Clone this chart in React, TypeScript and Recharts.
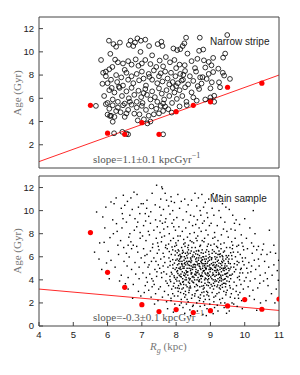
import { ScatterChart, Scatter, XAxis, YAxis, ReferenceLine } from 'recharts';

type Pt = [number, number];

const xTicks = [4, 5, 6, 7, 8, 9, 10, 11];
const yTicks = [0, 2, 4, 6, 8, 10, 12];

// Narrow stripe: individual stars (open circles)
const stripeStars: Pt[] = [
  [6.04,10.96],[6.17,10.67],[6.25,10.44],[6.36,10.8],[6.08,9.83],[6.67,10.96],[6.87,11.16],[6.8,10.8],[6.97,10.96],[7.1,11.05],
  [6.75,10.5],[6.96,10.0],[7.21,10.5],[7.46,10.67],[7.57,10.87],[7.6,10.5],[7.92,10.29],[8.03,10.15],[8.12,10.23],[8.19,10.5],
  [8.29,11.22],[8.24,10.73],[8.33,9.85],[8.69,11.22],[8.79,10.2],[8.67,10.09],[9.49,11.45],[9.43,9.85],[6.62,10.6],
  [5.81,9.3],[6.22,9.33],[6.14,8.7],[5.95,8.3],[6.05,8.5],[6.3,9.1],[6.6,9.2],[6.7,8.9],[6.82,9.35],[6.9,8.8],[7.1,9.3],
  [7.0,9.0],[7.25,8.95],[7.42,8.7],[7.52,9.25],[7.7,9.55],[7.82,9.1],[7.95,9.3],[8.1,8.9],[8.25,8.85],[8.45,9.2],[8.55,8.6],
  [8.62,9.4],[8.81,9.27],[8.95,9.13],[9.08,9.48],[9.03,8.84],[9.23,8.55],[9.37,9.5],[8.85,8.65],[7.3,9.7],[6.45,9.0],[7.62,8.75],[8.0,8.6],
  [5.87,8.2],[5.95,7.9],[6.0,7.3],[5.85,7.25],[6.1,7.6],[6.25,8.0],[6.28,7.4],[6.4,7.8],[6.45,7.1],[6.55,8.2],[6.6,7.6],[6.7,7.9],
  [6.75,7.3],[6.85,8.1],[6.92,7.55],[7.0,8.3],[7.05,7.7],[7.12,7.1],[7.2,8.1],[7.3,7.6],[7.35,8.4],[7.45,7.3],[7.5,7.9],[7.6,7.45],
  [7.68,8.3],[7.75,7.7],[7.85,8.2],[7.9,7.4],[7.98,7.9],[8.05,7.3],[8.12,8.1],[8.2,7.6],[8.26,8.35],[8.35,7.2],[8.4,7.9],[8.5,7.5],
  [8.58,8.3],[8.63,7.05],[8.7,7.8],[8.77,7.82],[8.89,7.67],[9.04,7.38],[9.25,7.38],[9.08,8.26],[9.36,8.2],[9.4,7.96],[9.57,7.67],
  [8.95,8.1],[8.16,7.53],[8.21,8.02],[6.33,7.0],[6.5,8.45],[7.22,7.85],[7.55,8.15],[7.8,7.2],[8.0,7.05],
  [5.9,6.2],[6.0,5.6],[6.05,6.7],[6.15,5.9],[6.2,6.5],[6.3,5.7],[6.35,6.9],[6.42,6.2],[6.5,5.55],[6.55,6.6],[6.62,6.0],[6.7,6.9],
  [6.78,6.3],[6.85,5.7],[6.9,6.65],[6.98,6.1],[7.02,5.6],[7.1,6.8],[7.15,6.3],[7.25,5.9],[7.3,6.6],[7.38,6.1],[7.45,5.7],[7.5,6.85],
  [7.58,6.4],[7.65,5.9],[7.72,6.7],[7.8,6.2],[7.88,5.6],[7.95,6.5],[8.02,5.95],[8.1,6.7],[8.18,6.2],[8.26,6.95],[8.3,5.7],[8.45,6.51],
  [8.5,6.08],[8.6,5.8],[8.67,6.8],[8.74,7.27],[9.0,6.86],[9.28,6.95],[9.0,6.08],[9.11,6.22],[9.0,5.78],[9.11,5.7],[8.85,5.9],
  [6.12,6.9],[6.65,5.7],[7.05,6.45],[7.62,5.55],[7.9,6.9],
  [5.66,5.35],[5.95,5.5],[6.0,4.6],[6.05,5.1],[6.1,4.5],[6.15,5.4],[6.2,4.4],[6.3,5.2],[6.38,4.8],[6.45,5.4],[6.5,4.4],[6.6,5.0],
  [6.7,5.45],[6.78,4.68],[6.85,5.2],[6.93,4.62],[7.0,5.35],[7.06,4.19],[7.12,5.0],[7.2,4.5],[7.28,5.3],[7.35,4.62],[7.42,5.1],
  [7.5,4.7],[7.55,5.35],[7.62,4.91],[7.68,5.3],[7.77,5.06],[7.87,4.77],[8.31,5.41],[8.1,5.3],[6.25,4.9],[6.55,4.7],[6.07,4.48],
  [6.15,3.98],[6.88,4.1],[7.16,3.84],[7.25,4.0],
  [6.19,2.99],[6.6,2.9],[6.43,3.11],[7.62,2.9],[6.55,2.95],
];

// Narrow stripe: binned medians (red)
const stripeBins: Pt[] = [
  [5.5,5.4],[6.0,3.0],[6.5,2.9],[7.0,3.9],[7.5,2.9],[8.0,4.85],[8.5,5.4],[9.0,5.7],[9.5,6.95],[10.5,7.3],
];
const stripeFit: Pt[] = [[4, 0.55], [11, 8.0]];

// Main sample: individual stars (dots), outskirts and bins by Rg
const mainStars: Pt[] = [
  [5.68,9.88],[5.86,9.45],[5.77,7.2],[5.9,7.25],[5.97,5.46],[5.75,5.8],[5.62,6.4],[5.92,8.5],[5.83,4.9],[5.95,10.3],
  [6.1,5.69],[6.02,6.47],[6.07,7.66],[6.17,8.0],[6.1,10.75],[6.19,10.6],[6.26,8.87],[6.28,8.2],[6.46,11.33],[6.5,10.46],
  [6.43,9.74],[6.45,9.3],[6.38,7.4],[6.32,6.2],[6.48,5.6],[6.22,5.1],[6.4,4.4],[6.35,3.9],[6.05,4.1],[6.3,7.0],[6.42,8.5],
  [6.15,9.2],[6.47,6.8],[6.25,11.1],[6.4,10.2],
  [6.52,3.67],[6.6,3.2],[6.65,8.0],[6.68,7.3],[6.7,6.7],[6.63,5.98],[6.77,11.6],[6.86,11.4],[6.94,9.74],[6.9,10.3],[6.55,9.0],
  [6.58,10.8],[6.72,10.1],[6.8,9.3],[6.85,8.6],[6.95,8.1],[6.62,7.7],[6.75,7.0],[6.88,6.4],[6.98,5.9],[6.57,5.2],[6.7,4.9],
  [6.82,4.5],[6.92,4.1],[6.6,4.2],[6.75,3.6],[6.9,3.0],[6.97,2.6],[6.55,6.3],[6.8,5.5],[6.95,7.6],[6.65,9.6],[6.78,8.3],
  [6.92,5.1],[6.85,6.9],[6.68,11.1],[6.98,10.6],[6.73,2.4],[6.6,7.0],[6.88,9.0],
  [7.04,10.6],[7.15,10.9],[7.3,11.5],[7.43,12.2],[7.1,9.74],[7.2,9.5],[7.4,9.2],[7.05,8.7],[7.25,8.9],[7.35,8.3],[7.45,8.6],
  [7.02,7.8],[7.12,7.4],[7.22,7.9],[7.32,7.1],[7.42,7.6],[7.48,6.9],[7.05,6.7],[7.15,6.2],[7.25,6.5],[7.35,5.9],[7.45,6.3],
  [7.08,5.5],[7.18,5.1],[7.28,5.6],[7.38,4.9],[7.48,5.3],[7.03,4.6],[7.13,4.2],[7.23,4.5],[7.33,3.9],[7.43,4.3],[7.1,3.5],
  [7.2,3.1],[7.3,3.4],[7.4,2.8],[7.47,2.2],[7.27,2.5],[7.07,2.9],[7.37,1.9],[7.14,10.2],[7.39,10.5],[7.26,9.9],[7.46,7.2],
  [7.19,8.2],[7.31,6.8],[7.41,5.6],[7.09,6.1],[7.21,5.3],[7.44,4.7],[7.36,3.6],[7.16,3.8],[7.29,4.1],[7.49,3.2],[7.11,9.1],
  [7.58,12.05],[7.6,11.9],[7.68,11.5],[7.55,11.0],[7.72,10.9],[7.85,11.2],[7.95,10.7],[7.52,10.3],[7.63,10.1],[7.78,10.4],
  [7.9,10.0],[7.56,9.6],[7.7,9.3],[7.82,9.7],[7.93,9.2],[7.6,8.9],[7.75,8.6],[7.88,8.9],[7.98,8.3],[7.53,8.1],[7.66,7.8],
  [7.8,8.0],[7.92,7.6],[7.57,7.3],[7.7,7.0],[7.84,7.4],[7.96,6.9],[7.5,6.6],[7.62,6.3],[7.74,6.7],[7.86,6.2],[7.98,6.5],
  [7.55,5.8],[7.67,5.5],[7.79,5.9],[7.9,5.3],[7.99,5.7],[7.52,5.0],[7.64,4.7],[7.76,5.1],[7.88,4.5],[7.97,4.9],[7.58,4.2],
  [7.7,3.9],[7.82,4.3],[7.94,3.7],[7.54,3.4],[7.66,3.0],[7.78,3.5],[7.9,2.8],[7.6,2.5],[7.72,2.1],[7.85,2.4],[7.96,1.9],
  [7.75,1.5],[7.92,1.2],[7.65,6.0],[7.83,5.6],[7.95,4.2],[7.72,4.5],[7.87,3.2],[7.58,7.7],[7.78,7.1],[7.93,8.6],[7.68,9.0],
  [7.8,6.45],[7.62,5.2],[7.9,6.6],[7.74,3.7],[7.98,3.3],[7.53,9.1],[7.86,10.8],[7.99,7.2],[7.64,8.4],[7.82,4.0],[7.69,6.8],
  [7.91,5.0],[7.57,4.6],[7.77,2.7],
  [8.05,11.4],[8.15,10.8],[8.25,11.0],[8.35,10.5],[8.45,10.9],[8.1,10.2],[8.3,9.9],[8.42,9.6],[8.02,9.4],[8.2,9.2],[8.38,9.0],
  [8.48,8.7],[8.08,8.6],[8.18,8.2],[8.28,8.5],[8.4,8.0],[8.12,7.8],[8.22,7.5],[8.33,7.7],[8.46,7.3],
  [8.01,7.0],[8.06,6.6],[8.11,6.2],[8.16,6.8],[8.21,6.4],[8.26,6.9],[8.31,6.1],[8.36,6.6],[8.41,6.3],[8.46,6.8],[8.03,5.8],
  [8.08,5.4],[8.13,5.9],[8.18,5.2],[8.23,5.7],[8.28,5.3],[8.33,5.9],[8.38,5.0],[8.43,5.5],[8.48,5.1],[8.04,4.8],[8.09,4.4],
  [8.14,4.9],[8.19,4.1],[8.24,4.6],[8.29,4.2],[8.34,4.7],[8.39,4.0],[8.44,4.5],[8.49,4.3],[8.02,3.9],[8.07,3.5],[8.12,3.7],
  [8.17,3.2],[8.22,3.6],[8.27,3.0],[8.32,3.4],[8.37,2.9],[8.42,3.3],[8.47,2.7],[8.05,2.6],[8.15,2.3],[8.25,2.5],[8.35,2.1],
  [8.45,2.4],[8.1,1.8],[8.2,1.6],[8.3,1.9],[8.4,1.4],[8.48,1.7],[8.25,1.1],[8.42,0.9],
  [8.07,6.1],[8.17,5.6],[8.27,6.3],[8.37,5.6],[8.47,6.0],[8.12,5.1],[8.22,4.4],[8.32,5.0],[8.42,4.8],[8.04,5.3],[8.14,4.5],
  [8.24,5.4],[8.34,4.4],[8.44,5.2],[8.09,3.9],[8.19,3.8],[8.29,4.8],[8.39,3.7],[8.49,3.8],[8.06,7.4],[8.26,7.2],[8.36,7.0],
  [8.44,6.5],[8.16,6.0],[8.31,5.6],[8.41,4.1],[8.21,3.3],[8.13,2.9],[8.38,3.1],[8.28,2.7],[8.03,4.2],[8.46,4.6],[8.33,6.4],
  [8.18,4.7],[8.23,5.0],[8.35,5.3],[8.11,5.6],[8.43,5.8],[8.26,4.0],[8.08,6.5],
  [8.55,11.5],[8.65,11.1],[8.75,11.4],[8.85,10.7],[8.95,11.0],[8.6,10.4],[8.7,10.0],[8.8,10.3],[8.9,9.8],[8.52,9.5],[8.62,9.2],
  [8.72,9.6],[8.82,9.1],[8.92,9.4],[8.57,8.8],[8.67,8.5],[8.77,8.9],[8.87,8.3],[8.97,8.7],[8.53,8.1],[8.63,7.8],[8.73,8.2],
  [8.83,7.6],[8.93,7.9],
  [8.51,7.2],[8.56,6.8],[8.61,7.4],[8.66,6.5],[8.71,7.0],[8.76,6.6],[8.81,7.3],[8.86,6.4],[8.91,6.9],[8.96,6.2],[8.53,6.0],
  [8.58,5.6],[8.63,6.2],[8.68,5.4],[8.73,5.9],[8.78,5.2],[8.83,5.8],[8.88,5.0],[8.93,5.6],[8.98,5.3],[8.52,5.1],[8.57,4.7],
  [8.62,5.3],[8.67,4.5],[8.72,4.9],[8.77,4.3],[8.82,4.8],[8.87,4.1],[8.92,4.6],[8.97,4.4],[8.54,4.0],[8.59,3.6],[8.64,4.2],
  [8.69,3.4],[8.74,3.8],[8.79,3.2],[8.84,3.7],[8.89,3.0],[8.94,3.5],[8.99,3.3],[8.55,2.8],[8.65,2.5],[8.75,2.9],[8.85,2.3],
  [8.95,2.6],[8.6,2.0],[8.7,1.7],[8.8,2.1],[8.9,1.5],[8.98,1.9],[8.62,1.3],[8.78,1.0],[8.88,0.9],
  [8.52,6.4],[8.6,5.9],[8.68,6.1],[8.74,5.5],[8.8,6.0],[8.86,5.4],[8.94,5.9],[8.56,5.3],[8.64,4.8],[8.7,5.0],[8.76,4.6],
  [8.84,5.1],[8.9,4.4],[8.96,4.9],[8.58,4.4],[8.66,3.9],[8.72,4.3],[8.8,3.5],[8.86,4.5],[8.93,3.8],[8.54,3.4],[8.63,3.1],
  [8.71,2.7],[8.81,2.6],[8.92,2.9],[8.69,6.9],[8.79,6.3],[8.89,6.6],[8.59,6.5],[8.97,5.7],[8.75,5.7],[8.65,5.7],[8.85,5.6],
  [8.55,4.5],[8.73,4.1],[8.83,4.0],[8.91,5.2],[8.61,4.0],[8.99,4.7],[8.77,5.0],[8.67,5.2],[8.87,4.9],[8.57,5.8],[8.95,4.1],[8.81,5.4],
  [9.08,11.47],[9.28,11.3],[9.15,10.8],[9.35,10.6],[9.05,10.2],[9.25,10.0],[9.45,10.3],[9.1,9.6],[9.3,9.4],[9.42,9.0],[9.02,8.9],
  [9.2,8.7],[9.38,8.4],[9.12,8.1],[9.32,7.9],[9.48,8.2],[9.07,7.6],[9.22,7.4],[9.4,7.2],
  [9.01,7.0],[9.06,6.6],[9.11,7.1],[9.16,6.3],[9.21,6.8],[9.26,6.2],[9.31,6.7],[9.36,6.0],[9.41,6.5],[9.46,6.1],[9.03,5.9],
  [9.08,5.5],[9.13,6.0],[9.18,5.3],[9.23,5.7],[9.28,5.1],[9.33,5.6],[9.38,5.0],[9.43,5.4],[9.48,5.2],[9.02,5.0],[9.07,4.6],
  [9.12,5.1],[9.17,4.4],[9.22,4.8],[9.27,4.2],[9.32,4.7],[9.37,4.0],[9.42,4.5],[9.47,4.3],[9.04,4.1],[9.09,3.7],[9.14,4.0],
  [9.19,3.4],[9.24,3.8],[9.29,3.2],[9.34,3.6],[9.39,3.0],[9.44,3.4],[9.49,3.1],[9.05,2.9],[9.15,2.6],[9.25,2.9],[9.35,2.4],
  [9.45,2.7],[9.1,2.1],[9.2,1.8],[9.3,2.0],[9.4,1.6],[9.08,1.07],[9.22,1.3],[9.47,1.1],
  [9.05,6.3],[9.15,5.8],[9.25,6.5],[9.35,5.5],[9.45,5.8],[9.1,5.3],[9.2,4.9],[9.3,5.4],[9.4,4.8],[9.06,4.4],[9.16,4.8],
  [9.26,4.5],[9.36,4.4],[9.46,4.9],[9.12,3.5],[9.22,4.1],[9.32,3.9],[9.42,3.7],[9.18,6.9],[9.28,6.0],[9.38,6.4],[9.03,5.4],
  [9.13,4.3],[9.23,5.2],[9.33,5.0],[9.43,4.1],[9.09,3.2],[9.19,2.8],[9.29,3.5],
  [9.55,10.1],[9.65,9.6],[9.75,9.2],[9.85,8.8],[9.6,8.4],[9.7,8.9],[9.9,7.9],[9.52,7.7],[9.62,7.3],[9.72,7.6],[9.82,7.0],
  [9.92,7.2],[9.57,6.8],[9.67,6.4],[9.77,6.9],[9.87,6.2],[9.97,6.6],[9.53,6.1],[9.63,5.8],[9.73,6.0],[9.83,5.5],[9.93,5.9],
  [9.58,5.4],[9.68,5.1],[9.78,5.6],[9.88,4.9],[9.98,5.3],[9.54,4.8],[9.64,4.5],[9.74,4.9],[9.84,4.3],[9.94,4.6],[9.59,4.1],
  [9.69,3.8],[9.79,4.2],[9.89,3.6],[9.99,3.9],[9.56,3.5],[9.66,3.2],[9.76,3.5],[9.86,2.9],[9.96,3.2],[9.61,2.8],[9.71,2.4],
  [9.81,2.7],[9.91,2.2],[9.63,2.0],[9.78,1.7],[9.93,1.5],[9.55,1.3],[9.7,5.4],[9.8,6.4],[9.6,4.4],[9.9,5.0],[9.65,7.0],
  [9.85,4.0],[9.75,3.0],[9.95,6.9],[9.52,5.0],[9.72,8.3],
  [10.1,10.9],[10.0,9.3],[10.25,10.0],[10.15,8.5],[10.3,8.0],[10.05,7.6],[10.2,7.2],[10.4,6.9],[10.08,6.7],[10.22,6.3],
  [10.35,6.6],[10.48,6.2],[10.02,5.9],[10.12,5.5],[10.28,5.7],[10.42,5.2],[10.06,5.0],[10.18,4.7],[10.32,4.9],[10.45,4.4],
  [10.04,4.2],[10.16,3.9],[10.3,4.1],[10.44,3.7],[10.1,3.4],[10.24,3.1],[10.38,3.3],[10.14,2.6],[10.28,2.3],[10.35,1.36],
  [10.46,2.0],[10.2,5.2],[10.4,5.8],[10.09,4.6],[10.26,6.9],
  [10.52,6.6],[10.65,6.2],[10.75,6.4],[10.9,6.3],[10.99,5.69],[10.58,5.6],[10.7,5.1],[10.85,5.3],[10.6,4.6],[10.8,4.4],
  [10.95,4.8],[10.55,3.9],[10.68,3.5],[10.98,3.96],[10.78,2.8],[10.62,2.2],[10.88,2.0],[10.72,8.3],[10.55,7.1],[10.85,7.0],
  [10.66,4.1],[10.92,3.2],
];

// Main sample: extra stars in the dense core around Rg 8-9.6 kpc
const mainCore: Pt[] = [
  [7.82,5.25],[7.86,4.65],[7.9,5.75],[7.94,4.35],[7.97,6.15],[7.84,3.85],[7.88,6.85],[7.92,3.45],[7.95,5.45],[7.99,4.05],
  [8.01,5.05],[8.03,6.35],[8.05,4.55],[8.07,5.65],[8.09,3.25],[8.11,4.95],[8.13,6.05],[8.15,4.25],[8.17,5.35],[8.19,6.55],
  [8.21,3.85],[8.23,5.15],[8.25,4.35],[8.27,5.85],[8.29,3.55],[8.31,4.65],[8.33,5.45],[8.35,6.25],[8.37,4.15],[8.39,5.25],
  [8.41,3.45],[8.43,4.95],[8.45,5.65],[8.47,4.25],[8.49,6.15],[8.51,3.75],[8.53,5.35],[8.55,4.45],[8.57,6.25],[8.59,3.05],
  [8.61,5.55],[8.63,4.65],[8.65,6.55],[8.67,3.85],[8.69,5.15],[8.71,4.35],[8.73,6.35],[8.75,3.45],[8.77,5.75],[8.79,4.75],
  [8.81,2.95],[8.83,5.25],[8.85,4.15],[8.87,6.05],[8.89,3.55],[8.91,5.45],[8.93,4.55],[8.95,6.45],[8.97,3.75],[8.99,5.05],
  [9.01,4.25],[9.03,5.75],[9.05,3.45],[9.07,5.25],[9.09,4.45],[9.11,6.45],[9.13,3.85],[9.15,5.05],[9.17,4.65],[9.19,5.95],
  [9.21,3.55],[9.23,4.45],[9.25,5.45],[9.27,3.95],[9.29,6.25],[9.31,4.25],[9.33,5.25],[9.35,3.35],[9.37,4.85],[9.39,5.65],
  [9.41,4.05],[9.43,5.05],[9.45,3.65],[9.47,4.55],[9.49,5.95],[9.51,4.25],[9.53,5.45],[9.55,3.85],[9.57,4.95],[9.59,6.35],
  [8.02,4.7],[8.06,3.0],[8.1,5.8],[8.14,3.6],[8.18,6.3],[8.22,2.8],[8.26,5.5],[8.3,4.0],[8.34,6.8],[8.38,3.3],
  [8.42,5.9],[8.46,3.9],[8.5,5.3],[8.54,2.6],[8.58,4.9],[8.62,3.5],[8.66,5.9],[8.7,2.4],[8.74,4.4],[8.78,6.0],
  [8.82,3.3],[8.86,5.0],[8.9,2.7],[8.94,4.3],[8.98,6.0],[9.02,3.6],[9.06,4.9],[9.1,2.5],[9.14,5.5],[9.18,3.9],
  [9.22,6.2],[9.26,3.3],[9.3,4.4],[9.34,6.1],[9.38,3.7],[9.42,5.2],[9.46,2.9],[9.5,4.6],[9.54,5.8],[9.58,3.3],
  [8.04,3.3],[8.12,4.3],[8.2,5.0],[8.28,4.5],[8.36,3.8],[8.44,4.6],[8.52,4.2],[8.6,4.6],[8.68,4.0],[8.76,5.4],
  [8.84,4.6],[8.92,4.0],[9.0,4.9],[9.08,4.0],[9.16,5.2],[9.24,4.6],[9.32,4.1],[9.4,5.0],[9.48,3.9],[9.56,4.4],
  [8.08,5.0],[8.16,5.4],[8.24,6.0],[8.32,4.7],[8.4,5.6],[8.48,4.9],[8.56,5.1],[8.64,5.4],[8.72,5.6],[8.8,4.8],
  [8.88,5.8],[8.96,5.2],[9.04,5.9],[9.12,4.8],[9.2,5.6],[9.28,4.9],[9.36,5.8],[9.44,4.5],[9.52,5.6],[9.6,5.1],
  [7.85,2.2],[7.95,2.6],[8.0,1.5],[8.15,2.0],[8.32,2.3],[8.5,1.8],[8.68,2.2],[8.83,1.8],[8.97,2.3],[9.12,1.6],
  [9.27,2.3],[9.42,2.0],[9.58,2.5],[9.68,1.9],[9.82,2.4],[9.62,6.1],[9.7,4.7],[9.78,5.3],[9.86,4.6],[9.94,5.6],
  [8.05,7.8],[8.22,7.1],[8.41,7.4],[8.58,7.6],[8.76,7.4],[8.94,7.1],[9.13,7.7],[9.3,7.1],[9.47,6.8],[9.64,6.7],
];

// Main sample: binned medians (red)
const mainBins: Pt[] = [
  [5.5,8.1],[6.0,4.65],[6.5,3.35],[7.0,1.85],[7.5,1.25],[8.0,1.42],[8.5,1.16],[9.0,1.33],[9.5,1.74],[10.0,2.29],[10.5,1.45],[11.0,2.34],
];
const mainFit: Pt[] = [[4, 3.2], [11, 1.35]];

const toXY = (a: Pt[]) => a.map(([x, y]) => ({ x, y }));

const FRAME = '#444';
const SANS = '"Liberation Sans", Arial, sans-serif';
const SERIF = '"Liberation Serif", "Times New Roman", serif';

const openCircle = (p: any) => (
  <circle cx={p.cx} cy={p.cy} r={2.4} fill="none" stroke="#000" strokeWidth={0.8} />
);
const redDot = (p: any) => <circle cx={p.cx} cy={p.cy} r={2.6} fill="#ff0000" />;
const tinyDot = (p: any) => (
  <rect x={p.cx - 0.7} y={p.cy - 0.7} width={1.4} height={1.4} fill="#000" />
);

function frameAxes(showXLabels: boolean, xHeight: number) {
  return [
    <XAxis key="xb" xAxisId="b" type="number" dataKey="x" domain={[4, 11]} ticks={xTicks}
      allowDataOverflow orientation="bottom" height={xHeight} tickSize={-4} tickMargin={9}
      tick={showXLabels ? { fill: '#222', fontSize: 9.5, fontFamily: SANS } : false}
      axisLine={{ stroke: FRAME }} tickLine={{ stroke: FRAME }} />,
    <XAxis key="xt" xAxisId="t" type="number" dataKey="x" domain={[4, 11]} ticks={xTicks}
      allowDataOverflow orientation="top" height={1} tickSize={-4} tick={false}
      axisLine={{ stroke: FRAME }} tickLine={{ stroke: FRAME }} />,
    <YAxis key="yl" yAxisId="l" type="number" dataKey="y" domain={[0, 13]} ticks={yTicks}
      allowDataOverflow orientation="left" width={39} tickSize={-4} tickMargin={9}
      tick={{ fill: '#222', fontSize: 9.5, fontFamily: SANS }}
      axisLine={{ stroke: FRAME }} tickLine={{ stroke: FRAME }} />,
    <YAxis key="yr" yAxisId="r" type="number" dataKey="y" domain={[0, 13]} ticks={yTicks}
      allowDataOverflow orientation="right" width={1} tickSize={-4} tick={false}
      axisLine={{ stroke: FRAME }} tickLine={{ stroke: FRAME }} />,
  ];
}

const slopeStyle: any = {
  position: 'absolute', left: 93, fontFamily: SERIF, fontSize: 11, color: '#555', whiteSpace: 'nowrap', lineHeight: '12px',
};
const tagStyle: any = {
  position: 'absolute', left: 210, fontFamily: SANS, fontSize: 10, color: '#222', whiteSpace: 'nowrap', lineHeight: '12px',
};
const ageStyle: any = {
  position: 'absolute', left: 17, width: 0, height: 0, fontFamily: SERIF, fontSize: 11, color: '#777', whiteSpace: 'nowrap',
};

function AgeLabel({ cy }: { cy: number }) {
  return (
    <div style={{ ...ageStyle, top: cy }}>
      <div style={{ position: 'absolute', transform: 'translate(-50%, -50%) rotate(-90deg)', lineHeight: '12px' }}>
        Age (Gyr)
      </div>
    </div>
  );
}

export default function App() {
  return (
    <div style={{ position: 'absolute', left: 0, top: 0, width: 300, height: 375, background: '#fff' }}>
      <div style={{ position: 'absolute', left: 0, top: 0 }}>
        <ScatterChart width={300} height={172} margin={{ top: 16, right: 20, bottom: 3, left: 0 }}>
          {frameAxes(false, 1)}
          <ReferenceLine xAxisId="b" yAxisId="l" segment={toXY(stripeFit)} stroke="#ff2a2a" strokeWidth={1} />
          <Scatter xAxisId="b" yAxisId="l" data={toXY(stripeStars)} shape={openCircle} isAnimationActive={false} />
          <Scatter xAxisId="b" yAxisId="l" data={toXY(stripeBins)} shape={redDot} isAnimationActive={false} />
        </ScatterChart>
      </div>
      <div style={{ position: 'absolute', left: 0, top: 172 }}>
        <ScatterChart width={300} height={203} margin={{ top: 3, right: 20, bottom: 29, left: 0 }}>
          {frameAxes(true, 20)}
          <Scatter xAxisId="b" yAxisId="l" data={toXY(mainStars)} shape={tinyDot} isAnimationActive={false} />
          <Scatter xAxisId="b" yAxisId="l" data={toXY(mainCore)} shape={tinyDot} isAnimationActive={false} />
          <ReferenceLine xAxisId="b" yAxisId="l" segment={toXY(mainFit)} stroke="#ff2a2a" strokeWidth={1} />
          <Scatter xAxisId="b" yAxisId="l" data={toXY(mainBins)} shape={redDot} isAnimationActive={false} />
        </ScatterChart>
      </div>

      <div style={{ ...tagStyle, top: 36 }}>Narrow stripe</div>
      <div style={{ ...tagStyle, top: 193 }}>Main sample</div>
      <div style={{ ...slopeStyle, top: 150 }}>
        slope=1.1±0.1 kpcGyr<sup style={{ fontSize: 8 }}>−1</sup>
      </div>
      <div style={{ ...slopeStyle, top: 308 }}>
        slope=-0.3±0.1 kpcGyr<sup style={{ fontSize: 8 }}>−1</sup>
      </div>
      <AgeLabel cy={92.5} />
      <AgeLabel cy={251} />
      <div style={{ position: 'absolute', left: 150, top: 340, fontFamily: SERIF, fontSize: 11, color: '#777', whiteSpace: 'nowrap' }}>
        <i>R</i><sub style={{ fontSize: 8 }}><i>g</i></sub> (kpc)
      </div>
    </div>
  );
}
